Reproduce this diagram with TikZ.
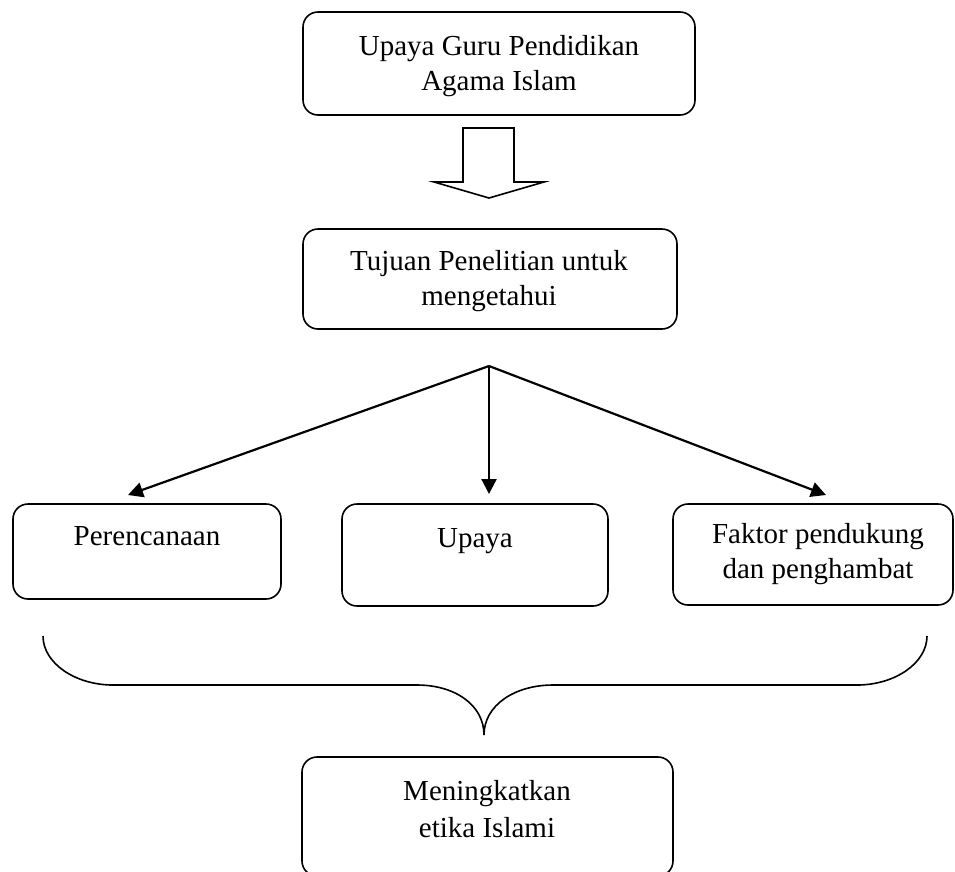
\documentclass[tikz,border=0pt]{standalone}
\usepackage{fontspec}
\setmainfont{Liberation Serif}
\usetikzlibrary{arrows.meta}
\begin{document}
\begin{tikzpicture}[x=1pt,y=-1pt,
  rbox/.style={draw, line width=1.6pt, rounded corners=15pt, inner sep=0pt},
  lbl/.style={font=\fontsize{29}{35}\selectfont, align=center, inner sep=0pt, anchor=north},
  arr/.style={line width=2.2pt, -{Triangle[length=15pt,width=15pt]}},
  thick line/.style={line width=1.6pt}]
\useasboundingbox (0,0) rectangle (955,871);

% boxes
\node[rbox, minimum width=392pt, minimum height=103pt] (top) at (499,63.5) {};
\node[rbox, minimum width=374pt, minimum height=100pt] (mid) at (490,279) {};
\node[rbox, minimum width=268pt, minimum height=95pt] (left) at (147,551.5) {};
\node[rbox, minimum width=266pt, minimum height=102pt] (cent) at (475,555) {};
\node[rbox, minimum width=280pt, minimum height=101pt] (right) at (813,554.5) {};
\node[rbox, minimum width=371pt, minimum height=119pt] (bot) at (487.5,816.5) {};

% texts
\node[lbl] (ttop) at (499,35) {Upaya Guru Pendidikan\\Agama Islam};
\node[lbl] (tmid) at (489,250.5) {Tujuan Penelitian untuk\\mengetahui};
\node[lbl] (tleft) at (147,526) {Perencanaan};
\node[lbl] (tcent) at (475,528) {Upaya};
\node[lbl] (tright) at (818,523.5) {Faktor pendukung\\dan penghambat};
\node[lbl, font=\fontsize{29}{37}\selectfont] (tbot) at (487,780.5) {Meningkatkan\\etika Islami};

% block arrow
\draw[thick line, line join=miter] (463,128) -- (514,128) -- (514,182) -- (544,182) -- (489,198)
  -- (434,182) -- (463,182) -- cycle;

% branching arrows
\coordinate (br) at (489,366);
\coordinate (tipl) at (128,495);
\coordinate (tipm) at (489,494);
\coordinate (tipr) at (826,495);
\draw[arr] (br) -- (tipl);
\draw[arr] (br) -- (tipm);
\draw[arr] (br) -- (tipr);

% brace
\draw[thick line] (43,636) .. controls (43,663) and (75,685) .. (113,685)
  -- (417,685) .. controls (455,685) and (484,705) .. (484,735)
  .. controls (484,705) and (515,685) .. (553,685)
  -- (857,685) .. controls (895,685) and (927,663) .. (927,636);
\end{tikzpicture}
\end{document}
